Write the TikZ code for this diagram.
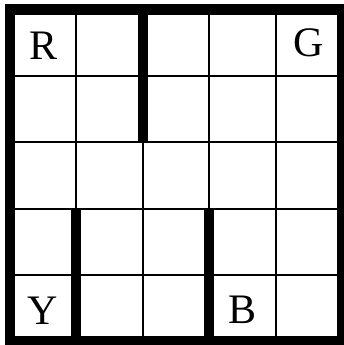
\documentclass[tikz,border=0pt]{standalone}
\usepackage{fontspec}
\setmainfont{Liberation Serif}
\usetikzlibrary{positioning}
\tikzset{
  gridline/.style={draw=black, line width=0.85pt},
  wall/.style={draw=black, line width=4.3pt},
  border/.style={draw=black, line width=4.3pt},
  letter/.style={font=\fontsize{18}{18}\selectfont, inner sep=0pt}
}
\begin{document}
\begin{tikzpicture}
  \useasboundingbox[fill=white] (-0.15,-0.053) rectangle (5.03,5.143);
  \draw[gridline] (0,0) grid (5,5);
  % walls
  \draw[wall] (2,5) -- (2,3);
  \draw[wall] (1,0) -- (1,2);
  \draw[wall] (3,0) -- (3,2);
  \draw[border] (0,0) rectangle (5,5);
  % depots
  \node[letter] (red) at (0.5,4.46) {R};
  \node[letter] (green) at (4.5,4.5) {G};
  \node[letter] (yellow) at (0.5,0.47) {Y};
  \node[letter] (blue) at (3.5,0.48) {B};
\end{tikzpicture}
\end{document}
